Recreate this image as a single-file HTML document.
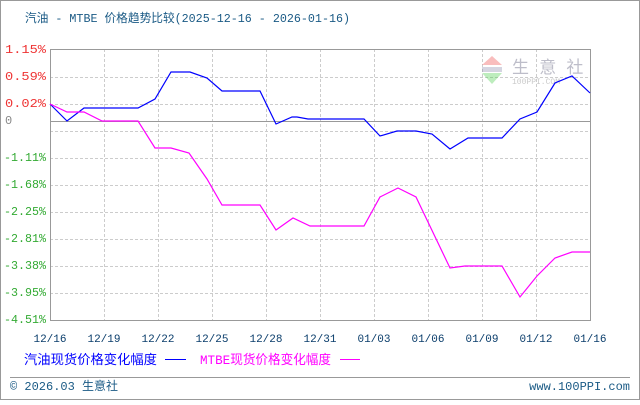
<!DOCTYPE html>
<html><head><meta charset="utf-8"><style>
body{margin:0;background:#fff;}
svg text{font-family:"Liberation Mono","Noto Sans CJK SC",monospace;}
</style></head><body>
<svg width="640" height="400" xmlns="http://www.w3.org/2000/svg">
<rect x="0.5" y="0.5" width="639" height="399" fill="#fff" stroke="#999"/>
<text x="25" y="22" font-size="12" fill="#1a5a85" textLength="325" lengthAdjust="spacingAndGlyphs">汽油 - MTBE 价格趋势比较(2025-12-16 - 2026-01-16)</text>
<g stroke="#ccc" stroke-dasharray="3,2" stroke-width="1">
<line x1="50" y1="77.5" x2="590" y2="77.5"/><line x1="50" y1="104.5" x2="590" y2="104.5"/>
<line x1="50" y1="131.5" x2="590" y2="131.5"/><line x1="50" y1="158.5" x2="590" y2="158.5"/>
<line x1="50" y1="185.5" x2="590" y2="185.5"/><line x1="50" y1="212.5" x2="590" y2="212.5"/>
<line x1="50" y1="239.5" x2="590" y2="239.5"/><line x1="50" y1="266.5" x2="590" y2="266.5"/>
<line x1="50" y1="293.5" x2="590" y2="293.5"/>
<line x1="104.5" y1="49" x2="104.5" y2="320"/><line x1="158.5" y1="49" x2="158.5" y2="320"/>
<line x1="212.5" y1="49" x2="212.5" y2="320"/><line x1="266.5" y1="49" x2="266.5" y2="320"/>
<line x1="320.5" y1="49" x2="320.5" y2="320"/><line x1="374.5" y1="49" x2="374.5" y2="320"/>
<line x1="428.5" y1="49" x2="428.5" y2="320"/><line x1="482.5" y1="49" x2="482.5" y2="320"/>
<line x1="536.5" y1="49" x2="536.5" y2="320"/>
</g>
<line x1="50" y1="121.5" x2="590" y2="121.5" stroke="#999"/>
<rect x="50.5" y="49.5" width="540" height="271" fill="none" stroke="#999"/>
<g opacity="0.35">
<polygon points="492,56 482,65 502,65" fill="#e44"/>
<rect x="482" y="67" width="20" height="5" fill="#88a"/>
<polygon points="482,73 502,73 492,84" fill="#4c4"/>
<text x="512" y="73" font-size="17" fill="#446" font-family="Liberation Sans,Noto Sans CJK SC,sans-serif">生 意 社</text>
<text x="512" y="84" font-size="8" fill="#666">100PPI.COM</text>
</g>
<g font-size="12" text-anchor="end">
<text x="46" y="53" fill="#e33" textLength="41" lengthAdjust="spacingAndGlyphs">1.15%</text>
<text x="46" y="80" fill="#e33" textLength="41" lengthAdjust="spacingAndGlyphs">0.59%</text>
<text x="46" y="107" fill="#e33" textLength="41" lengthAdjust="spacingAndGlyphs">0.02%</text>
<text x="5" y="124" fill="#888" text-anchor="start">0</text>
<text x="46" y="161" fill="#3a3" textLength="42" lengthAdjust="spacingAndGlyphs">-1.11%</text>
<text x="46" y="188" fill="#3a3" textLength="42" lengthAdjust="spacingAndGlyphs">-1.68%</text>
<text x="46" y="215" fill="#3a3" textLength="42" lengthAdjust="spacingAndGlyphs">-2.25%</text>
<text x="46" y="242" fill="#3a3" textLength="42" lengthAdjust="spacingAndGlyphs">-2.81%</text>
<text x="46" y="269" fill="#3a3" textLength="42" lengthAdjust="spacingAndGlyphs">-3.38%</text>
<text x="46" y="296" fill="#3a3" textLength="42" lengthAdjust="spacingAndGlyphs">-3.95%</text>
<text x="46" y="323" fill="#3a3" textLength="42" lengthAdjust="spacingAndGlyphs">-4.51%</text>
</g>
<g font-size="11" fill="#0a3d6b" text-anchor="middle">
<text x="50" y="342">12/16</text><text x="104" y="342">12/19</text><text x="158" y="342">12/22</text>
<text x="212" y="342">12/25</text><text x="266" y="342">12/28</text><text x="320" y="342">12/31</text>
<text x="374" y="342">01/03</text><text x="428" y="342">01/06</text><text x="482" y="342">01/09</text>
<text x="536" y="342">01/12</text><text x="590" y="342">01/16</text>
</g>
<polyline fill="none" stroke="#00f" stroke-width="1.2" points="50,104 67,121 84,108 138,108 155,99 171,72 190,72 207,78 222,91 260,91 276,124 292,117 297,117 308,119 364,119 380,136 397,131 416,131 432,134 450,149 468,138 502,138 520,119 537,112 555,83 572,76 590,93"/>
<polyline fill="none" stroke="#f0f" stroke-width="1.2" points="50,104 67,112 84,112 102,121 138,121 155,148 171,148 189,153 207,179 222,205 260,205 276,230 293,218 310,226 364,226 380,197 398,188 416,197 450,268 465,266 502,266 520,297 537,276 555,258 572,252 590,252"/>
<text x="24" y="364" font-size="13" fill="#00f" font-family="Liberation Sans,Noto Sans CJK SC,sans-serif" textLength="133" lengthAdjust="spacingAndGlyphs">汽油现货价格变化幅度</text>
<line x1="165" y1="359.5" x2="186" y2="359.5" stroke="#00f"/>
<text x="200" y="364" font-size="13" fill="#f0f" font-family="Liberation Serif,Noto Sans CJK SC,serif" textLength="131" lengthAdjust="spacingAndGlyphs">MTBE现货价格变化幅度</text>
<line x1="340" y1="359.5" x2="360" y2="359.5" stroke="#f0f"/>
<line x1="10" y1="377.5" x2="630" y2="377.5" stroke="#999"/>
<text x="10" y="390" font-size="12" fill="#1a5a85">© 2026.03 生意社</text>
<text x="630" y="390" font-size="12" fill="#1a5a85" text-anchor="end">www.100PPI.com</text>
</svg>
</body></html>
